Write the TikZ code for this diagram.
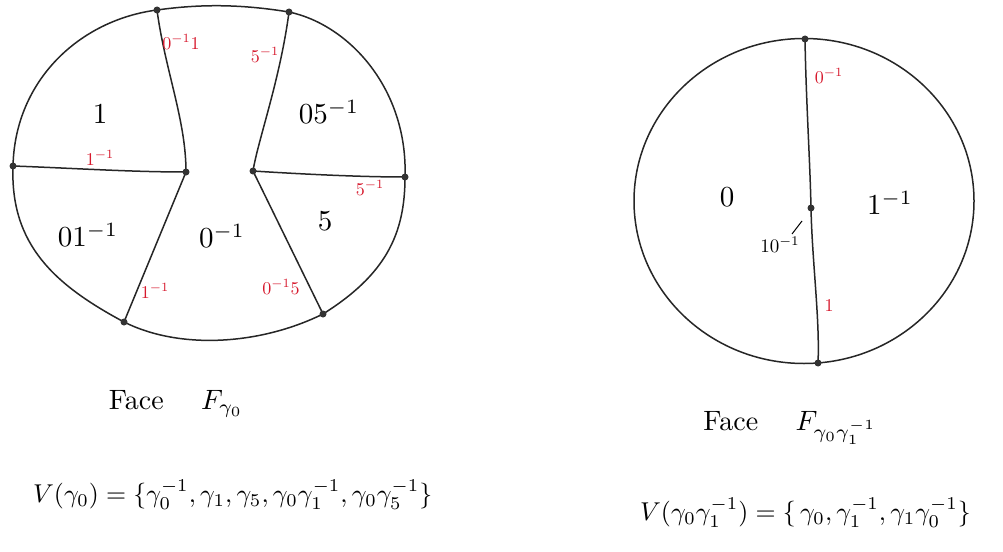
\documentclass[tikz,border=0pt]{standalone}
\usepackage{amsmath}
\newcommand{\szz}[2]{\scalebox{#1}{#2}}
\begin{document}
\begin{tikzpicture}[x=1pt,y=-1pt,
  edge/.style={line width=1.5pt,black!85},
  vtx/.style={circle,fill=black!80,inner sep=0pt,minimum size=7pt},
  redlab/.style={text=labred,inner sep=0pt},
  reglab/.style={inner sep=0pt},
  caption/.style={inner sep=0pt},
  setlab/.style={inner sep=0pt,anchor=west}]
\definecolor{labred}{RGB}{215,25,45}
\useasboundingbox (0,0) rectangle (1003,551);
\fill[white] (0,0) rectangle (1003,551);
% ---- left face
\coordinate (A) at (157,10);
\coordinate (B) at (289,12);
\coordinate (C) at (13,166);
\coordinate (D) at (186,172);
\coordinate (E) at (253,171);
\coordinate (F) at (405,177);
\coordinate (G) at (124,322);
\coordinate (H) at (323,314);
\draw[edge] (A) .. controls (80,20) and (15,80) .. (C)
  .. controls (10,245) and (55,285) .. (G)
  .. controls (180,350) and (260,345) .. (H)
  .. controls (385,275) and (405,235) .. (F)
  .. controls (408,90) and (350,25) .. (B)
  .. controls (240,4) and (200,4) .. (A);
\draw[edge] (A) .. controls (165,70) and (186,120) .. (D);
\draw[edge] (B) .. controls (280,80) and (258,140) .. (E);
\draw[edge] (C) .. controls (70,168) and (130,172) .. (D);
\draw[edge] (E) .. controls (300,174) and (360,177) .. (F);
\draw[edge] (D) -- (G);
\draw[edge] (E) -- (H);
\foreach \p in {A,B,C,D,E,F,G,H} \node[vtx] (v\p) at (\p) {};
\node[redlab] (l1) at (181,42) {\szz{1.8}{$0^{-1}1$}};
\node[redlab] (l2) at (265,55) {\szz{1.8}{$5^{-1}$}};
\node[redlab] (l3) at (100,158) {\szz{1.8}{$1^{-1}$}};
\node[redlab] (l4) at (370,188) {\szz{1.8}{$5^{-1}$}};
\node[redlab] (l5) at (155,291) {\szz{1.8}{$1^{-1}$}};
\node[redlab] (l6) at (281,287) {\szz{1.8}{$0^{-1}5$}};
\node[reglab] (r1) at (100,114) {\szz{2.9}{$1$}};
\node[reglab] (r2) at (329,112) {\szz{2.9}{$05^{-1}$}};
\node[reglab] (r3) at (88,235) {\szz{2.9}{$01^{-1}$}};
\node[reglab] (r4) at (222,236) {\szz{2.9}{$0^{-1}$}};
\node[reglab] (r5) at (325,221) {\szz{2.9}{$5$}};
\node[caption] (c1) at (176,404) {\szz{2.8}{Face\quad\ $F_{\gamma_0}$}};
\node[setlab] (s1) at (33,495) {\szz{2.58}{$V(\gamma_0)=\{\gamma_0^{-1},\gamma_1,\gamma_5,\gamma_0\gamma_1^{-1},\gamma_0\gamma_5^{-1}\}$}};
% ---- right face
\coordinate (P) at (805,39);
\coordinate (Q) at (811,208);
\coordinate (R) at (818,363);
\draw[edge] (804,201) ellipse [x radius=170, y radius=162.5];
\draw[edge] (P) .. controls (806,100) and (810,160) .. (Q);
\draw[edge] (Q) .. controls (812,260) and (820,320) .. (R);
\foreach \p in {P,Q,R} \node[vtx] (v\p) at (\p) {};
\node[redlab] (m1) at (829,76) {\szz{1.8}{$0^{-1}$}};
\node[redlab] (m2) at (829,306) {\szz{1.8}{$1$}};
\node[reglab] (m3) at (727,197) {\szz{2.9}{$0$}};
\node[reglab] (m4) at (890,203) {\szz{2.9}{$1^{-1}$}};
\node[inner sep=0pt] (m5) at (780,245) {\szz{1.9}{$10^{-1}$}};
\coordinate (tk) at (792,234);
\draw[line width=1pt] (tk) -- (802,221);
\node[caption] (c2) at (790,428) {\szz{2.8}{Face\quad\ $F_{\gamma_0\gamma_1^{-1}}$}};
\node[setlab] (s2) at (640,513) {\szz{2.58}{$V(\gamma_0\gamma_1^{-1})=\{\,\gamma_0,\gamma_1^{-1},\gamma_1\gamma_0^{-1}\}$}};
\end{tikzpicture}
\end{document}
